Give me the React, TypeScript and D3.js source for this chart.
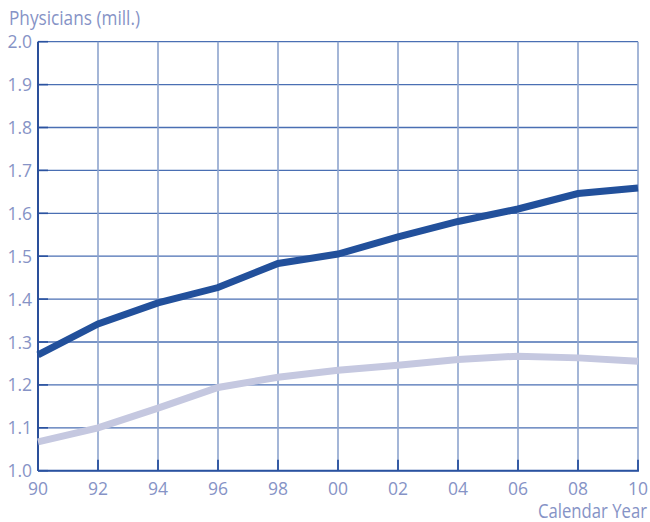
import React from "react";
import * as d3 from "d3";

const years = [1990, 1992, 1994, 1996, 1998, 2000, 2002, 2004, 2006, 2008, 2010];
const xTickLabels = ["90", "92", "94", "96", "98", "00", "02", "04", "06", "08", "10"];
const yTicks = [1.0, 1.1, 1.2, 1.3, 1.4, 1.5, 1.6, 1.7, 1.8, 1.9, 2.0];
const darkSeries = [1.27, 1.342, 1.391, 1.427, 1.483, 1.505, 1.545, 1.581, 1.61, 1.646, 1.659];
const lightSeries = [1.067, 1.1, 1.146, 1.194, 1.218, 1.234, 1.246, 1.259, 1.267, 1.263, 1.255];

const W = 650;
const H = 522;
const left = 38;
const right = 638;
const top = 41.7;
const bottom = 470.7;
const textColor = "#8693c6";
const font = "'Open Sans', 'Noto Sans', sans-serif";

export default function App() {
  const x = d3.scaleLinear().domain([1990, 2010]).range([left, right]);
  const y = d3.scaleLinear().domain([1.0, 2.0]).range([bottom, top]);
  const line = d3
    .line<number>()
    .x((_, i) => x(years[i]))
    .y((d) => y(d));

  return (
    <svg
      width={W}
      height={H}
      style={{ position: "absolute", left: 0, top: 0, background: "#fff" }}
    >
      {/* horizontal grid */}
      {yTicks.map((t) => (
        <line key={"h" + t} x1={left} x2={right} y1={y(t)} y2={y(t)} stroke="#4a6fb3" strokeWidth={1.3} />
      ))}
      {/* vertical grid */}
      {years.map((yr) => (
        <line key={"v" + yr} x1={x(yr)} x2={x(yr)} y1={top} y2={bottom} stroke="#8ea4cd" strokeWidth={1.6} />
      ))}
      {/* inner ticks */}
      {yTicks.map((t) => (
        <line key={"yt" + t} x1={left} x2={left + 10} y1={y(t)} y2={y(t)} stroke="#2a52a0" strokeWidth={1.6} />
      ))}
      {years.map((yr) => (
        <line key={"xt" + yr} x1={x(yr)} x2={x(yr)} y1={bottom - 11} y2={bottom} stroke="#2a52a0" strokeWidth={1.8} />
      ))}
      {/* axes */}
      <line x1={left} x2={left} y1={top} y2={bottom} stroke="#2a4f9a" strokeWidth={2} />
      <line x1={left} x2={right + 1} y1={bottom} y2={bottom} stroke="#2a52a0" strokeWidth={2} />

      {/* series */}
      <path d={line(lightSeries) || ""} fill="none" stroke="#c5c8e0" strokeWidth={7} />
      <path d={line(darkSeries) || ""} fill="none" stroke="#22509b" strokeWidth={7} />

      {/* y tick labels */}
      {yTicks.map((t) => (
        <text
          key={"yl" + t}
          x={32}
          y={y(t) + 6.5}
          textAnchor="end"
          fontFamily={font}
          fontSize={17.5}
          fill={textColor}
        >
          {t.toFixed(1)}
        </text>
      ))}
      {/* x tick labels */}
      {years.map((yr, i) => (
        <text
          key={"xl" + yr}
          x={x(yr)}
          y={495}
          textAnchor="middle"
          fontFamily={font}
          fontSize={17.5}
          fill={textColor}
        >
          {xTickLabels[i]}
        </text>
      ))}
      <text
        x={9}
        y={25}
        fontFamily={font}
        fontSize={19.5}
        fill={textColor}
        textLength={131}
        lengthAdjust="spacingAndGlyphs"
      >
        Physicians (mill.)
      </text>
      <text
        x={538}
        y={518}
        fontFamily={font}
        fontSize={19.5}
        fill={textColor}
        textLength={109}
        lengthAdjust="spacingAndGlyphs"
      >
        Calendar Year
      </text>
    </svg>
  );
}
